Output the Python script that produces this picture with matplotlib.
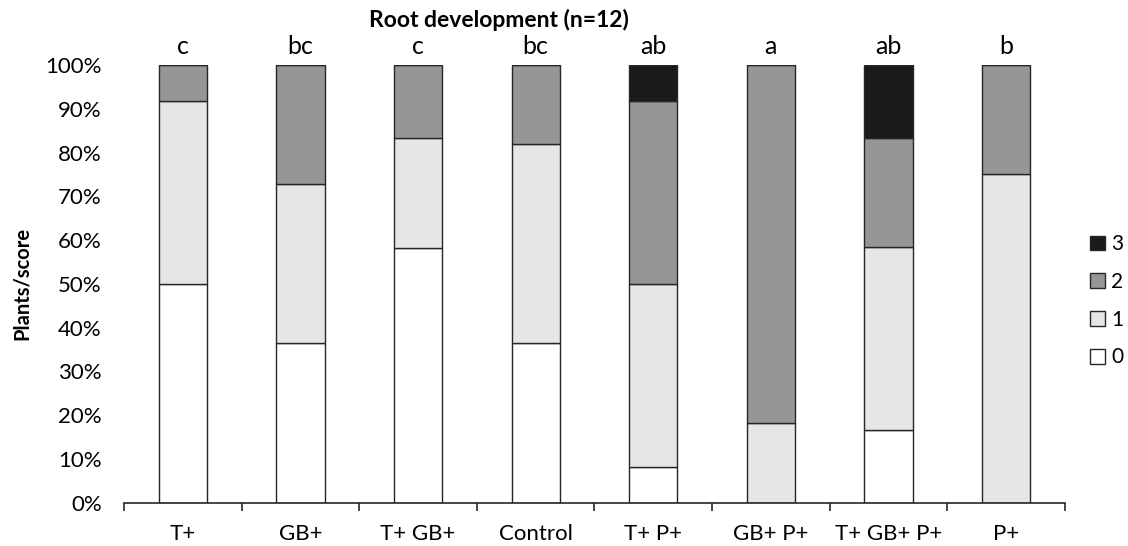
import matplotlib.pyplot as plt
import numpy as np

plt.rcParams['font.family'] = ['Lato', 'DejaVu Sans']

groups = ['T+', 'GB+', 'T+ GB+', 'Control', 'T+ P+', 'GB+ P+', 'T+ GB+ P+', 'P+']
letters = ['c', 'bc', 'c', 'bc', 'ab', 'a', 'ab', 'b']

# share of plants per root score (%)
score0 = [50.0, 36.4, 58.3, 36.4, 8.3, 0.0, 16.7, 0.0]
score1 = [41.7, 36.4, 25.0, 45.5, 41.7, 18.2, 41.7, 75.0]
score2 = [8.3, 27.2, 16.7, 18.1, 41.7, 81.8, 25.0, 25.0]
score3 = [0.0, 0.0, 0.0, 0.0, 8.3, 0.0, 16.6, 0.0]

fig = plt.figure(figsize=(11.28, 5.46), dpi=100)
ax = fig.add_axes([0.110, 0.079, 0.834, 0.802])

x = np.arange(len(groups))
w = 0.41
bottom = np.zeros(len(groups))
colors = ['#ffffff', '#e6e6e6', '#969696', '#1a1a1a']
handles = []
for vals, c, lab in zip([score0, score1, score2, score3], colors, ['0', '1', '2', '3']):
    v = np.array(vals)
    h = ax.bar(x, v, w, bottom=bottom, color=c, edgecolor='#262626',
               linewidth=1.0, label=lab)
    handles.append(h)
    bottom += v

for xi, top, t in zip(x, bottom, letters):
    ax.text(xi, top + 1.5, t, ha='center', va='bottom', fontsize=18)

ax.set_xlim(-0.5, len(groups) - 0.5)
ax.set_ylim(0, 100)
ax.set_yticks(np.arange(0, 101, 10))
ax.set_yticklabels([f'{v}%' for v in range(0, 101, 10)], fontsize=16)
ax.set_xticks(x)
ax.set_xticklabels(groups, fontsize=16)
ax.set_xticks(np.arange(-0.5, len(groups)), minor=True)
ax.tick_params(axis='x', which='major', length=0, pad=15)
ax.tick_params(axis='x', which='minor', length=6, width=1.2, color='#262626')
ax.tick_params(axis='y', length=0, pad=16)
for s in ['top', 'right', 'left']:
    ax.spines[s].set_visible(False)
ax.spines['bottom'].set_linewidth(1.2)
ax.spines['bottom'].set_color('#262626')

ax.set_ylabel('Plants/score', fontsize=14.5, fontweight='bold', labelpad=10)
fig.text(0.442, 0.963, 'Root development (n=12)', ha='center', va='center',
         fontsize=16.5, fontweight='bold')

fig.legend(handles[::-1], ['3', '2', '1', '0'], loc='center left',
           bbox_to_anchor=(0.966, 0.449), frameon=False, fontsize=15,
           handlelength=0.72, handleheight=0.72, handletextpad=0.3,
           labelspacing=0.85, borderpad=0, borderaxespad=0)

fig.savefig('out.png', dpi=100)
